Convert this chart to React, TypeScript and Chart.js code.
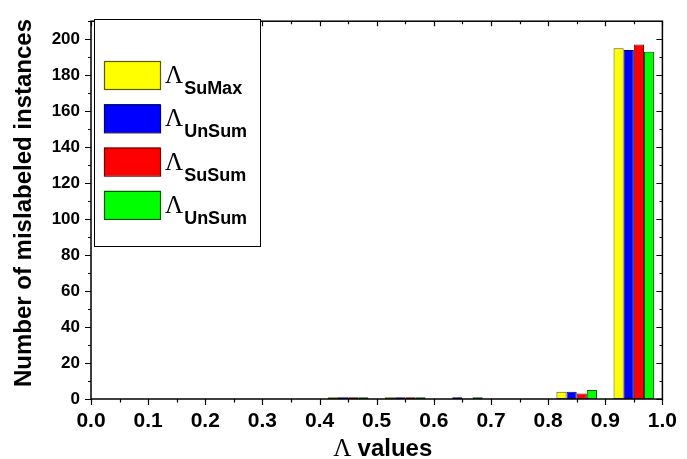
import React, { useEffect, useRef } from "react";
import { Chart, registerables } from "chart.js";

Chart.register(...registerables);

// ---- data ----
const bins = ["0.0-0.1", "0.1-0.2", "0.2-0.3", "0.3-0.4", "0.4-0.5", "0.5-0.6", "0.6-0.7", "0.7-0.8", "0.8-0.9", "0.9-1.0"];
const suMax = [0, 0, 0, 0, 1, 1, 0, 0, 4, 195];
const unSumA = [0, 0, 0, 0, 1, 1, 1, 0, 4, 194];
const suSum = [0, 0, 0, 0, 1, 1, 0, 0, 3, 197];
const unSumB = [0, 0, 0, 0, 1, 1, 1, 0, 5, 193];
const legendMain = "\u039B";
const legendSubs = ["SuMax", "UnSum", "SuSum", "UnSum"];
const fills = ["#FFFF00", "#0000FF", "#FF0000", "#00FF00"];
const borders = ["#5a5a00", "#000070", "#700000", "#005a00"];
const xTitleMain = "\u039B";
const xTitleRest = "values";
const yTitle = "Number of mislabeled instances";

const SANS = '"Liberation Sans", Arial, sans-serif';
const SERIF = '"Liberation Serif", "Times New Roman", serif';

const decorPlugin = {
  id: "decor",
  afterDraw(chart: any) {
    const ctx = chart.ctx as CanvasRenderingContext2D;
    const { left, right, top, bottom } = chart.chartArea;
    const ya = chart.scales.y;
    const xa = chart.scales.xv;
    ctx.save();
    ctx.strokeStyle = "#000";
    ctx.lineWidth = 1.5;
    ctx.strokeRect(left, top, right - left, bottom - top);
    ctx.lineWidth = 1.2;
    ctx.beginPath();
    for (let v = 0; v <= 210; v += 10) {
      const y = Math.round(ya.getPixelForValue(v)) + 0.5;
      const len = v % 20 === 0 ? 6 : 3;
      ctx.moveTo(left - len, y);
      ctx.lineTo(left, y);
      ctx.moveTo(right, y);
      ctx.lineTo(right - len, y);
    }
    for (let i = 0; i <= 20; i++) {
      const x = Math.round(xa.getPixelForValue(i * 0.05)) + 0.5;
      const major = i % 2 === 0;
      const lb = major ? 6 : 3.5;
      const lt = major ? 5 : 3;
      ctx.moveTo(x, bottom);
      ctx.lineTo(x, bottom + lb);
      ctx.moveTo(x, top);
      ctx.lineTo(x, top + lt);
    }
    ctx.stroke();

    // legend
    const bx = 94.5, by = 19.5, bw = 166, bh = 227;
    ctx.fillStyle = "#fff";
    ctx.fillRect(bx, by, bw, bh);
    ctx.lineWidth = 1;
    ctx.strokeStyle = "#000";
    ctx.strokeRect(bx, by, bw, bh);
    legendSubs.forEach((sub, i) => {
      const st = 61 + i * 43.3;
      ctx.fillStyle = fills[i];
      ctx.fillRect(104, st, 56, 28);
      ctx.strokeStyle = borders[i];
      ctx.lineWidth = 1.2;
      ctx.strokeRect(104.5, st + 0.5, 56, 28);
      ctx.fillStyle = "#000";
      ctx.textAlign = "left";
      ctx.textBaseline = "alphabetic";
      ctx.font = `25px ${SERIF}`;
      ctx.fillText(legendMain, 165, st + 22);
      const w = ctx.measureText(legendMain).width;
      ctx.font = `bold 18px ${SANS}`;
      ctx.fillText(sub, 165 + w + 1, st + 33);
    });

    // x title
    ctx.fillStyle = "#000";
    ctx.textBaseline = "alphabetic";
    ctx.textAlign = "left";
    ctx.font = `25px ${SERIF}`;
    const wm = ctx.measureText(xTitleMain + " ").width;
    ctx.font = `bold 24px ${SANS}`;
    const wr = ctx.measureText(xTitleRest).width;
    const cx = (left + right) / 2 + 6;
    const sx = cx - (wm + wr) / 2;
    ctx.font = `25px ${SERIF}`;
    ctx.fillText(xTitleMain, sx, 456);
    ctx.font = `bold 24px ${SANS}`;
    ctx.fillText(xTitleRest, sx + wm, 456);

    // y title
    ctx.save();
    ctx.translate(31, 203);
    ctx.rotate(-Math.PI / 2);
    ctx.textAlign = "center";
    ctx.font = `bold 24px ${SANS}`;
    ctx.fillText(yTitle, 0, 0);
    ctx.restore();
    ctx.restore();
  },
};

export default function App() {
  const ref = useRef<HTMLCanvasElement>(null);
  useEffect(() => {
    const series = [suMax, unSumA, suSum, unSumB];
    const chart = new Chart(ref.current as HTMLCanvasElement, {
      type: "bar",
      data: {
        labels: bins,
        datasets: series.map((d, i) => ({
          label: legendMain + legendSubs[i],
          data: d,
          backgroundColor: fills[i],
          borderColor: borders[i],
          borderWidth: 1,
          borderSkipped: false,
          categoryPercentage: 0.71,
          barPercentage: 1.0,
          xAxisID: "x",
          yAxisID: "y",
        })),
      },
      options: {
        responsive: false,
        animation: false,
        layout: { padding: { left: 0, right: 20, top: 13, bottom: 0 } },
        plugins: { legend: { display: false }, tooltip: { enabled: false } },
        scales: {
          x: { type: "category", display: false, offset: true },
          xv: {
            type: "linear",
            position: "bottom",
            offset: false,
            min: 0,
            max: 1,
            grid: { display: false, drawTicks: false, offset: false },
            border: { display: false },
            ticks: {
              stepSize: 0.1,
              padding: 10,
              color: "#000",
              maxRotation: 0,
              autoSkip: false,
              font: { family: SANS, size: 21, weight: "bold" },
              callback: (v: any) => Number(v).toFixed(1),
            },
            afterFit: (s: any) => {
              s.height = 60;
            },
          },
          y: {
            type: "linear",
            min: 0,
            max: 210,
            grid: { display: false, drawTicks: false },
            border: { display: false },
            ticks: {
              stepSize: 20,
              includeBounds: false,
              padding: 11,
              color: "#000",
              font: { family: SANS, size: 17, weight: "bold" },
            },
            afterFit: (s: any) => {
              s.width = 91;
            },
          },
        },
      },
      plugins: [decorPlugin],
    });
    return () => chart.destroy();
  }, []);
  return (
    <div style={{ position: "fixed", left: 0, top: 0, width: 687, height: 459, background: "#fff" }}>
      <canvas ref={ref} width={687} height={459} />
    </div>
  );
}
